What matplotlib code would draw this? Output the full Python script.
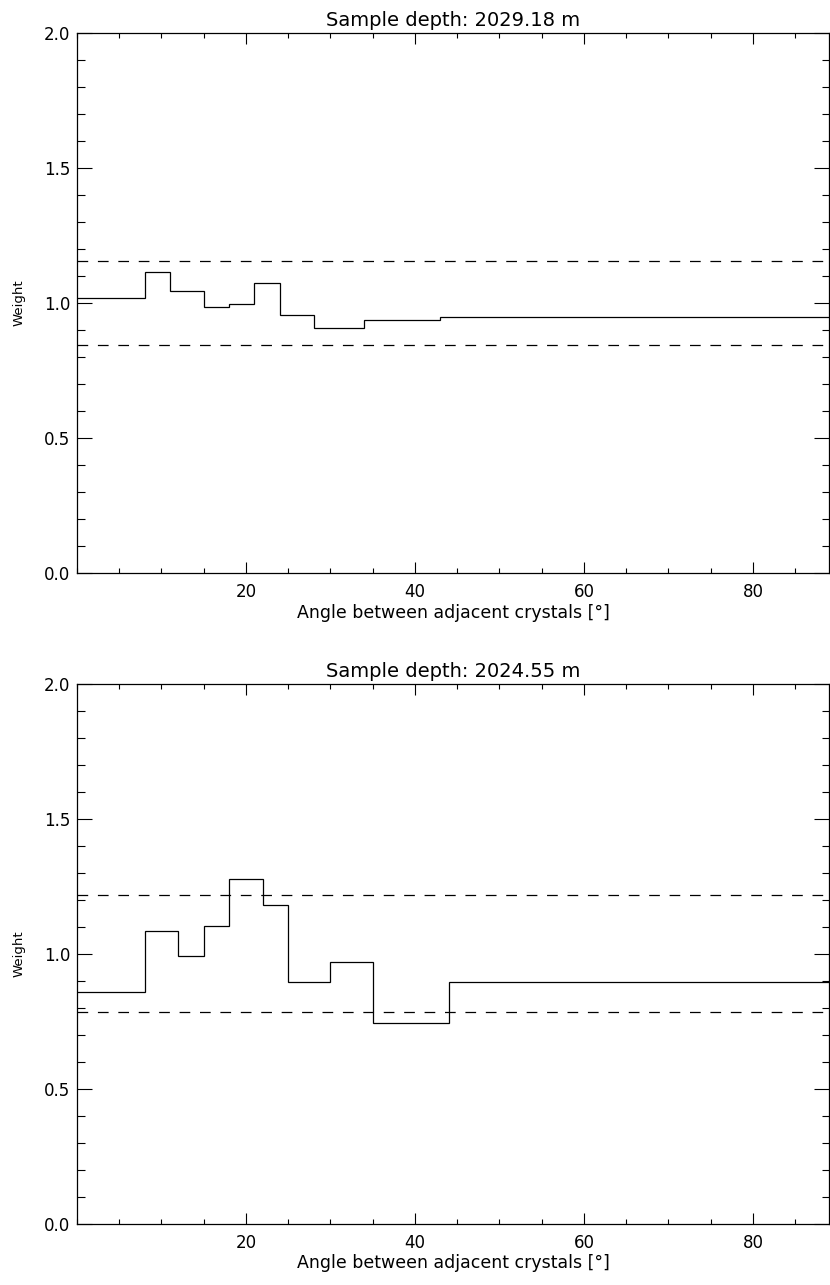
# misorientation weights for two ice core samples
import numpy as np
import matplotlib
matplotlib.use('Agg')
import matplotlib.pyplot as plt
from matplotlib.ticker import MultipleLocator, FormatStrFormatter

plt.rcParams['font.family'] = 'DejaVu Sans'
plt.rcParams['lines.scale_dashes'] = False

# sample 1 (upper panel)
depth1 = 2029.18
edges1 = [0, 8, 11, 15, 18, 21, 24, 28, 34, 43, 90]
weights1 = [1.017, 1.114, 1.046, 0.986, 0.996, 1.075, 0.957, 0.909, 0.938, 0.947]
band1 = [0.846, 1.154]

# sample 2 (lower panel)
depth2 = 2024.55
edges2 = [0, 8, 12, 15, 18, 22, 25, 30, 35, 44, 90]
weights2 = [0.858, 1.086, 0.991, 1.105, 1.276, 1.181, 0.895, 0.971, 0.744, 0.895]
band2 = [0.785, 1.217]

xticks = [20, 40, 60, 80]

W, H = 830, 1285
fig = plt.figure(figsize=(W/100, H/100), dpi=100)

def make_ax(top_px, bot_px):
    left, right = 77, 829
    return fig.add_axes([left/W, 1 - bot_px/H, (right-left)/W, (bot_px-top_px)/H])

ax1 = make_ax(33, 573)
ax2 = make_ax(684, 1224)

for ax, depth, edges, w, band in [(ax1, depth1, edges1, weights1, band1),
                                  (ax2, depth2, edges2, weights2, band2)]:
    ax.stairs(w, edges, baseline=None, color='black', lw=0.9)
    for b in band:
        ax.axhline(b, color='black', lw=0.9, dashes=(7.7, 7.0))
    ax.set_xlim(0, 89)
    ax.set_ylim(0, 2.0)
    ax.set_xticks(xticks)
    ax.xaxis.set_minor_locator(MultipleLocator(5))
    ax.yaxis.set_major_locator(MultipleLocator(0.5))
    ax.yaxis.set_minor_locator(MultipleLocator(0.1))
    ax.yaxis.set_major_formatter(FormatStrFormatter('%.1f'))
    ax.tick_params(axis='x', which='major', direction='in', length=7.8, width=0.8,
                   top=True, labelsize=12, pad=7)
    ax.tick_params(axis='x', which='minor', direction='in', length=3.9, width=0.8, top=True)
    ax.tick_params(axis='y', which='major', direction='in', length=10.8, width=0.8,
                   right=True, labelsize=12, pad=5)
    ax.tick_params(axis='y', which='minor', direction='in', length=5.4, width=0.8, right=True)
    for s in ax.spines.values():
        s.set_linewidth(0.9)
    ax.set_xlabel('Angle between adjacent crystals [°]', fontsize=12.5, labelpad=2)
    ax.set_ylabel('Weight', fontsize=9.5, labelpad=13)
    ax.set_title('Sample depth: %.2f m' % depth, fontsize=14, pad=5)

fig.savefig('out.png', dpi=100)
